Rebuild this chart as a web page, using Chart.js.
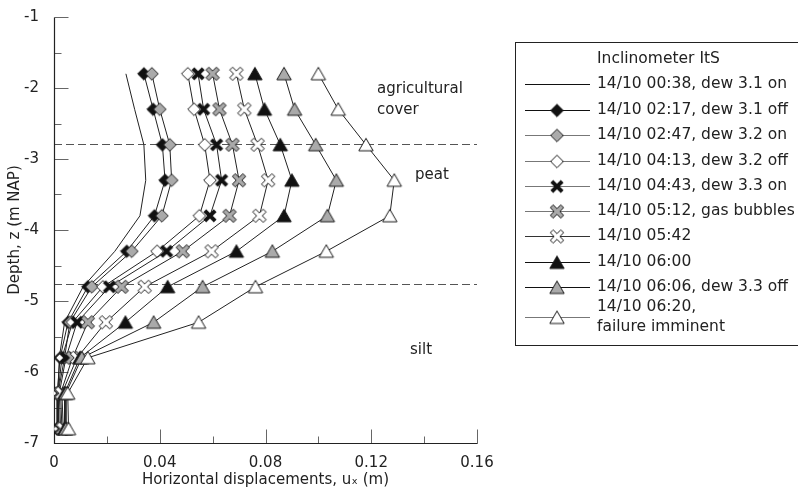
<!DOCTYPE html>
<html>
<head>
<meta charset="utf-8">
<script src="https://cdn.jsdelivr.net/npm/chart.js"></script>
<style>
    body { margin: 0; background: #fff; }
    canvas { display: block; }
</style>
</head>
<body>
<canvas id="inclChart" width="798" height="493"></canvas>
<script>
// depths of the measuring points (m NAP)
let depths = [-1.8, -2.3, -2.8, -3.3, -3.8, -4.3, -4.8, -5.3, -5.8, -6.3, -6.8];

let seriesNames = [
    "14/10 00:38, dew 3.1 on",
    "14/10 02:17, dew 3.1 off",
    "14/10 02:47, dew 3.2 on",
    "14/10 04:13, dew 3.2 off",
    "14/10 04:43, dew 3.3 on",
    "14/10 05:12, gas bubbles",
    "14/10 05:42",
    "14/10 06:00",
    "14/10 06:06, dew 3.3 off",
    ["14/10 06:20,", "failure imminent"]
];

// horizontal displacement (m) per series, top to bottom
let ux0038 = [0.0272, 0.0305, 0.0340, 0.0347, 0.0325, 0.0230, 0.0110, 0.0040, 0.0020, 0.0015, 0.0015];
let ux0217 = [0.0340, 0.0375, 0.0410, 0.0420, 0.0380, 0.0275, 0.0128, 0.0053, 0.0023, 0.0012, 0.0012];
let ux0247 = [0.0370, 0.0400, 0.0438, 0.0445, 0.0408, 0.0294, 0.0143, 0.0060, 0.0040, 0.0015, 0.0015];
let ux0413 = [0.0506, 0.0530, 0.0570, 0.0590, 0.0550, 0.0390, 0.0185, 0.0070, 0.0030, 0.0015, 0.0020];
let ux0443 = [0.0545, 0.0566, 0.0615, 0.0634, 0.0590, 0.0426, 0.0210, 0.0087, 0.0045, 0.0020, 0.0025];
let ux0512 = [0.0600, 0.0626, 0.0675, 0.0700, 0.0664, 0.0487, 0.0256, 0.0128, 0.0070, 0.0025, 0.0030];
let ux0542 = [0.0690, 0.0720, 0.0770, 0.0810, 0.0777, 0.0596, 0.0343, 0.0196, 0.0087, 0.0030, 0.0035];
let ux0600 = [0.0760, 0.0796, 0.0856, 0.0900, 0.0870, 0.0690, 0.0430, 0.0270, 0.0098, 0.0040, 0.0040];
let ux0606 = [0.0870, 0.0910, 0.0990, 0.1068, 0.1034, 0.0826, 0.0562, 0.0377, 0.0105, 0.0045, 0.0045];
let ux0620 = [0.1000, 0.1075, 0.1180, 0.1287, 0.1270, 0.1030, 0.0762, 0.0547, 0.0128, 0.0052, 0.0055];

let allSeries = [ux0038, ux0217, ux0247, ux0413, ux0443, ux0512, ux0542, ux0600, ux0606, ux0620];

// layer boundaries and tick labels
let layerBounds = [-2.79, -4.76];
let xTickLabels = ["0", "0.04", "0.08", "0.12", "0.16"];
let yTickLabels = ["-7", "-6", "-5", "-4", "-3", "-2", "-1"];

let font = "DejaVu Sans";
let textColor = "#222";

// marker images
function makeMarker(shape, fill) {
    let c = document.createElement("canvas");
    c.width = 20;
    c.height = 20;
    let g = c.getContext("2d");
    g.translate(10, 10);
    g.fillStyle = fill;
    g.strokeStyle = "#1a1a1a";
    g.lineWidth = 1;
    g.lineJoin = "miter";
    g.beginPath();
    if (shape === "diamond") {
        g.moveTo(0, -6.3);
        g.lineTo(6.3, 0);
        g.lineTo(0, 6.3);
        g.lineTo(-6.3, 0);
        g.closePath();
        g.fill();
        g.stroke();
    } else if (shape === "triangle") {
        g.moveTo(0, -6.5);
        g.lineTo(7.2, 6);
        g.lineTo(-7.2, 6);
        g.closePath();
        g.fill();
        g.stroke();
    } else if (shape === "boldx") {
        g.strokeStyle = fill;
        g.lineWidth = 4;
        g.moveTo(-5.2, -5.2);
        g.lineTo(5.2, 5.2);
        g.moveTo(5.2, -5.2);
        g.lineTo(-5.2, 5.2);
        g.stroke();
    } else {
        // outlined x
        let a = 2, L = 7.4;
        let pts = [[-a, -L], [a, -L], [a, -a], [L, -a], [L, a], [a, a], [a, L], [-a, L], [-a, a], [-L, a], [-L, -a], [-a, -a]];
        let cs = Math.SQRT1_2;
        pts.forEach(function (p, i) {
            let px = (p[0] - p[1]) * cs;
            let py = (p[0] + p[1]) * cs;
            if (i === 0) g.moveTo(px, py); else g.lineTo(px, py);
        });
        g.closePath();
        g.fill();
        g.stroke();
    }
    return c;
}

let markers = [
    null,
    makeMarker("diamond", "#111"),
    makeMarker("diamond", "#aaa"),
    makeMarker("diamond", "#fff"),
    makeMarker("boldx", "#111"),
    makeMarker("x", "#aaa"),
    makeMarker("x", "#fff"),
    makeMarker("triangle", "#111"),
    makeMarker("triangle", "#aaa"),
    makeMarker("triangle", "#fff")
];
let legendLineColors = ["#111", "#111", "#777", "#777", "#777", "#777", "#333", "#111", "#111", "#777"];

let datasets = allSeries.map(function (vals, i) {
    return {
        label: Array.isArray(seriesNames[i]) ? seriesNames[i].join(" ") : seriesNames[i],
        data: vals.map(function (v, k) { return { x: v, y: depths[k] }; }),
        showLine: true,
        borderColor: "#222",
        borderWidth: 1,
        pointStyle: markers[i] || "circle",
        pointRadius: markers[i] ? 6 : 0,
        pointHoverRadius: markers[i] ? 6 : 0,
        order: 20 - i
    };
});

// axes with inward ticks, layer boundaries, region labels
let decorPlugin = {
    id: "decor",
    beforeDatasetsDraw: function (chart) {
        let c = chart.ctx;
        let area = chart.chartArea;
        let xs = chart.scales.x;
        let ys = chart.scales.y;
        c.save();

        c.strokeStyle = "#555";
        c.lineWidth = 1;
        c.setLineDash([8, 4]);
        layerBounds.forEach(function (z) {
            let py = Math.round(ys.getPixelForValue(z)) + 0.5;
            c.beginPath();
            c.moveTo(area.left, py);
            c.lineTo(area.right, py);
            c.stroke();
        });
        c.setLineDash([]);

        let ax = Math.round(area.left) + 0.5;
        let ay = Math.round(area.bottom) + 0.5;

        c.strokeStyle = "#666";
        c.lineWidth = 1;
        for (let v = 0; v <= 0.1601; v += 0.02) {
            let px = Math.round(xs.getPixelForValue(v)) + 0.5;
            let major = Math.abs(v / 0.04 - Math.round(v / 0.04)) < 0.01;
            c.beginPath();
            c.moveTo(px, ay);
            c.lineTo(px, ay - (major ? 14 : 7));
            c.stroke();
        }
        for (let z = -7; z <= -0.999; z += 0.5) {
            let py = Math.round(ys.getPixelForValue(z)) + 0.5;
            let major = Math.abs(z - Math.round(z)) < 0.01;
            c.beginPath();
            c.moveTo(ax, py);
            c.lineTo(ax + (major ? 14 : 7), py);
            c.stroke();
        }

        c.strokeStyle = "#222";
        c.lineWidth = 1.2;
        c.beginPath();
        c.moveTo(ax, Math.round(ys.getPixelForValue(-1)) + 0.5);
        c.lineTo(ax, ay);
        c.lineTo(Math.round(area.right) + 0.5, ay);
        c.stroke();

        c.fillStyle = textColor;
        c.font = "15px '" + font + "'";
        c.textBaseline = "middle";
        c.textAlign = "left";
        c.fillText("agricultural", 377, 89);
        c.fillText("cover", 377, 110);
        c.fillText("peat", 415, 175);
        c.fillText("silt", 410, 350);
        c.restore();
    },
    afterDraw: function (chart) {
        let c = chart.ctx;
        c.save();
        c.strokeStyle = "#222";
        c.lineWidth = 1;
        c.strokeRect(515.5, 42.5, 290, 303);

        c.fillStyle = textColor;
        c.font = "15.5px '" + font + "'";
        c.textBaseline = "middle";
        c.textAlign = "left";
        c.fillText("Inclinometer ItS", 597, 59);

        let rowY = [84, 109.5, 135, 160.5, 185.5, 211, 236, 261.5, 287, 317];
        seriesNames.forEach(function (name, i) {
            let y = rowY[i];
            c.strokeStyle = legendLineColors[i];
            c.lineWidth = 1;
            c.beginPath();
            c.moveTo(525, Math.round(y) + 0.5);
            c.lineTo(590, Math.round(y) + 0.5);
            c.stroke();
            if (markers[i]) c.drawImage(markers[i], 557 - 10, Math.round(y) - 10 + 0.5);
            c.fillStyle = textColor;
            if (Array.isArray(name)) {
                c.fillText(name[0], 597, y - 10);
                c.fillText(name[1], 597, y + 10);
            } else {
                c.fillText(name, 597, y);
            }
        });
        c.restore();
    }
};

let ctx = document.getElementById("inclChart").getContext("2d");

let chart = new Chart(ctx, {
    type: "scatter",
    data: { datasets: datasets },
    options: {
        responsive: false,
        animation: false,
        layout: { padding: { top: 17, right: 321, bottom: 0, left: 0 } },
        plugins: {
            legend: { display: false },
            tooltip: { enabled: false }
        },
        scales: {
            x: {
                type: "linear",
                min: 0,
                max: 0.16,
                afterFit: function (s) { s.height = 50; },
                grid: { display: false },
                border: { display: false },
                ticks: {
                    stepSize: 0.04,
                    padding: 3,
                    color: textColor,
                    font: { family: font, size: 15 },
                    maxRotation: 0,
                    callback: function (v, i) { return xTickLabels[i]; }
                },
                title: {
                    display: true,
                    text: "Horizontal displacements, uₓ (m)",
                    color: textColor,
                    font: { family: font, size: 15 },
                    padding: { top: 0, bottom: 4 }
                }
            },
            y: {
                type: "linear",
                min: -7,
                max: -1,
                afterFit: function (s) { s.width = 54; },
                grid: { display: false },
                border: { display: false },
                ticks: {
                    stepSize: 1,
                    padding: 7,
                    color: textColor,
                    font: { family: font, size: 15 },
                    callback: function (v, i) { return yTickLabels[i]; }
                },
                title: {
                    display: true,
                    text: "Depth, z (m NAP)",
                    color: textColor,
                    font: { family: font, size: 15 },
                    padding: { top: 6, bottom: 0 }
                }
            }
        }
    },
    plugins: [decorPlugin]
});
</script>
</body>
</html>
